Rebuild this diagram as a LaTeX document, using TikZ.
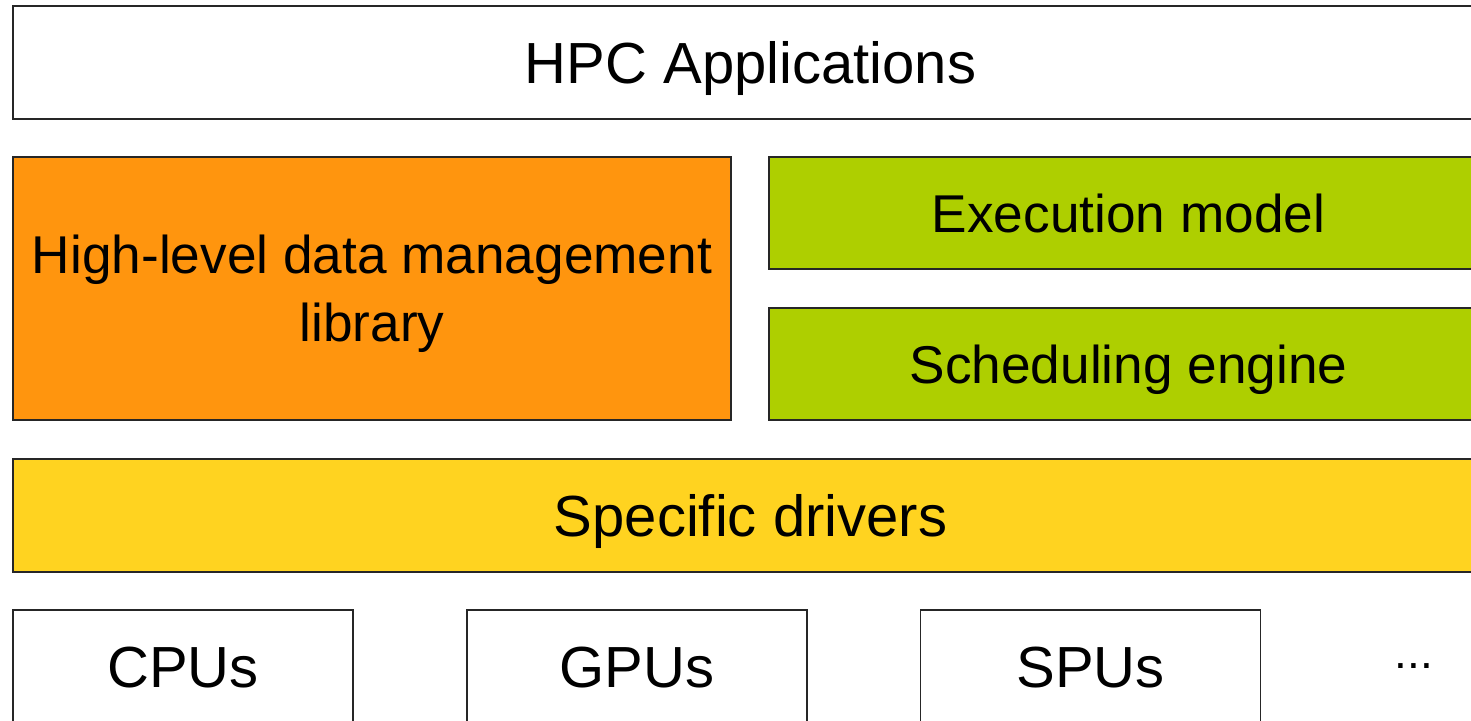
\documentclass[tikz,border=0pt]{standalone}
\usepackage{fontspec}
\setmainfont{Liberation Sans}
\usepackage{tikz}
\usetikzlibrary{positioning}
\definecolor{cHpc}{RGB}{255,255,255}
\definecolor{cData}{HTML}{FF950E}
\definecolor{cExec}{HTML}{AECF00}
\definecolor{cDrv}{HTML}{FFD320}

\begin{document}
\begin{tikzpicture}[
   x=1pt,y=-1pt,
   layer/.style={draw=black!85,line width=0.6pt,inner sep=0pt,minimum height=56.5pt,
     font=\fontsize{29}{32}\selectfont,text height=21pt,text depth=0pt,align=center},
   mid/.style={layer,font=\fontsize{26.6}{34}\selectfont,text height=19pt,minimum width=359.5pt},
   hw/.style={layer,fill=white,minimum width=170pt}]
  \useasboundingbox (0,0) rectangle (735.5,360);
  \clip (0,0) rectangle (735.5,360);
  % software stack
  \node[layer,fill=cHpc,minimum width=737.5pt] (hpc) at (375.25,31.25) {HPC Applications};
  \node[mid,fill=cData,minimum width=359pt,minimum height=131.5pt,text height=53pt] (data) at (186,144.25)
     {High-level data management\\library};
  \node[mid,fill=cExec,minimum height=56pt] (exec) at (564.25,106.5) {Execution model};
  \node[mid,fill=cExec,minimum height=56pt] (sched) at (564.25,182) {Scheduling engine};
  \node[layer,fill=cDrv,minimum width=737.5pt] (drv) at (375.25,257.75) {Specific drivers};
  % hardware
  \node[hw] (cpu) at (91.5,333.25) {CPUs};
  \node[hw] (gpu) at (318.5,333.25) {GPUs};
  \node[hw] (spu) at (545.25,333.25) {SPUs};
  \node[font=\fontsize{23}{26}\selectfont,inner sep=0pt] (more) at (707,333) {...};
\end{tikzpicture}
\end{document}
